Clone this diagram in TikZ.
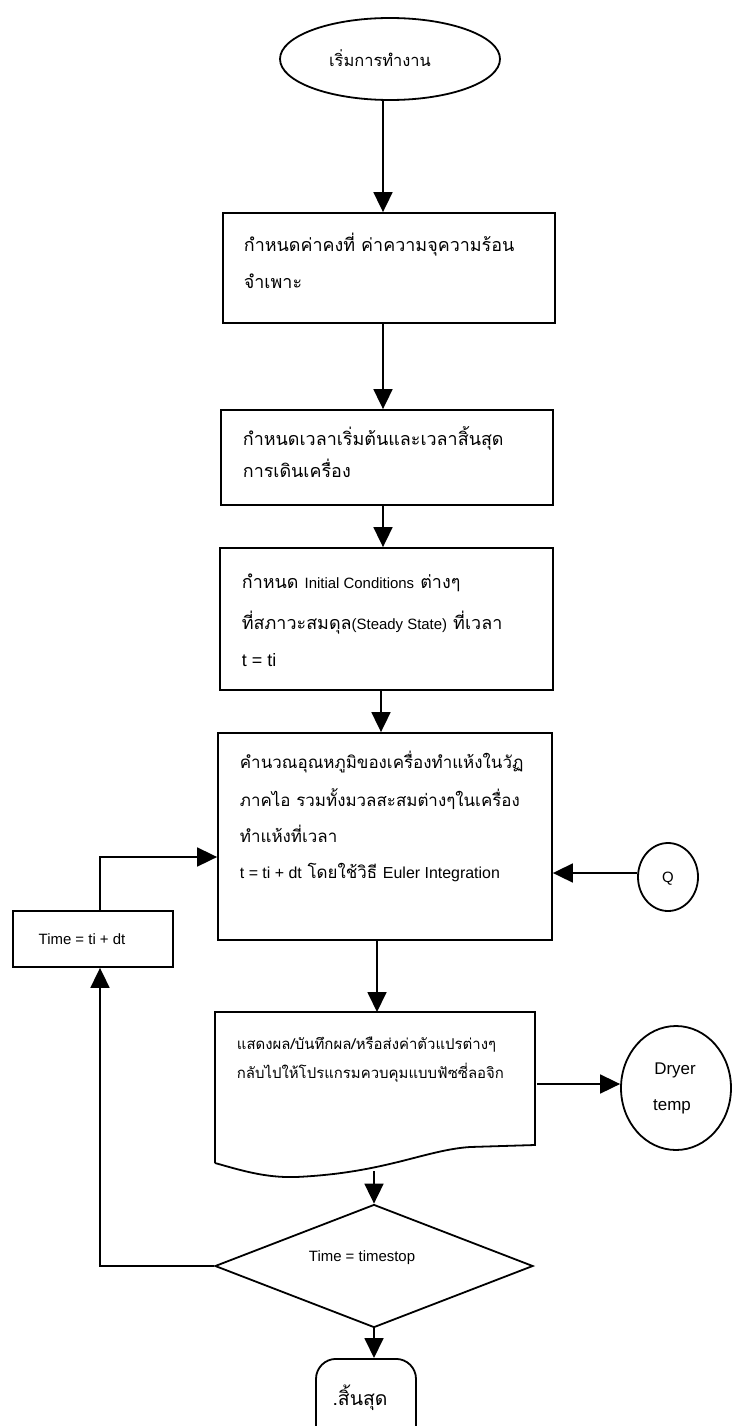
\documentclass[tikz,border=0pt]{standalone}
\usepackage{fontspec}
\setmainfont{Liberation Sans}
\newfontfamily\thai[Script=Thai]{Loma}
\usetikzlibrary{arrows.meta,shapes.geometric,calc}
\begin{document}
\begin{tikzpicture}[x=1bp,y=-1bp,line width=1.8bp,
  flow/.style={-{Triangle[length=20bp,width=19bp]}},
  boxn/.style={draw,rectangle,inner sep=0pt},
  txt/.style={anchor=west,inner sep=0pt,align=left},
  ctxt/.style={inner sep=0pt,align=center},
  thaiA/.style={font=\thai\fontsize{18}{21}\selectfont},
  thaiB/.style={font=\thai\fontsize{17}{20}\selectfont},
  thaiC/.style={font=\thai\fontsize{15}{18}\selectfont},
]
\useasboundingbox (0,0) rectangle (731,1426);
\fill[white] (0,0) rectangle (731,1426);
\newcommand\lat[1]{{\fontspec{Liberation Sans}\fontsize{15}{17}\selectfont #1}}
\newcommand\latb[1]{{\fontspec{Liberation Sans}\fontsize{16}{18}\selectfont #1}}

% start ellipse
\node[draw,ellipse,inner sep=0pt,minimum width=220bp,minimum height=82bp] (ell) at (390,59) {};
\node[ctxt,font=\thai\fontsize{16.5}{19}\selectfont] (ellt) at (380,58) {เริ่มการทำงาน};

% box 1
\node[boxn,minimum width=332bp,minimum height=110bp] (b1) at (389,268) {};
\node[txt,thaiA] (b1a) at (243,245) {กำหนดค่าคงที่ ค่าความจุความร้อน};
\node[txt,thaiA] (b1b) at (243,281) {จำเพาะ};

% box 2
\node[boxn,minimum width=332bp,minimum height=95bp] (b2) at (387,457.5) {};
\node[txt,thaiA] (b2a) at (242,438) {กำหนดเวลาเริ่มต้นและเวลาสิ้นสุด};
\node[txt,thaiA] (b2b) at (242,468) {การเดินเครื่อง};

% box 3
\node[boxn,minimum width=333bp,minimum height=142bp] (b3) at (386.5,619) {};
\node[txt,thaiA] (b3a) at (241,583) {กำหนด \lat{Initial Conditions} ต่างๆ};
\node[txt,thaiA] (b3b) at (241,623) {ที่สภาวะสมดุล\lat{(Steady State)} ที่เวลา};
\node[txt] (b3c) at (241,660) {{\fontspec{Liberation Sans}\fontsize{18}{20}\selectfont t = ti}};

% box 4
\node[boxn,minimum width=334bp,minimum height=207bp] (b4) at (385,836.5) {};
\node[txt,thaiB] (b4a) at (239,762) {คำนวณอุณหภูมิของเครื่องทำแห้งในวัฏ};
\node[txt,thaiB] (b4b) at (239,799) {ภาคไอ รวมทั้งมวลสะสมต่างๆในเครื่อง};
\node[txt,thaiB] (b4c) at (239,834) {ทำแห้งที่เวลา};
\node[txt,thaiB] (b4d) at (239,873) {\latb{t = ti + dt} โดยใช้วิธี \latb{Euler Integration}};

% Time box
\node[boxn,minimum width=160bp,minimum height=56bp] (tb) at (93,939) {};
\node[ctxt,font=\fontsize{15}{17}\selectfont] (tbt) at (82,939) {Time = ti + dt};

% Q circle
\node[draw,ellipse,inner sep=0pt,minimum width=60bp,minimum height=68bp] (q) at (668,877) {};
\node[ctxt,font=\fontsize{15}{17}\selectfont] (qt) at (668,879) {Q};

% document shape
\node[inner sep=0pt,minimum width=320bp,minimum height=133bp,anchor=north west] (doc) at (215,1012) {};
\draw (215,1163) -- (215,1012) -- (535,1012) -- (535,1145) -- (470,1147)
  .. controls (425,1150) and (385,1173) .. (296,1177)
  .. controls (265,1178) and (240,1170) .. (215,1163);
\node[txt,thaiC] (da) at (236,1045) {แสดงผล/บันทึกผล/หรือส่งค่าตัวแปรต่างๆ};
\node[txt,thaiC] (db) at (236,1073) {กลับไปให้โปรแกรมควบคุมแบบฟัซซี่ลอจิก};
\coordinate (docb) at (374,1171);

% Dryer temp circle
\node[draw,ellipse,inner sep=0pt,minimum width=110bp,minimum height=124bp] (dry) at (676,1088) {};
\node[ctxt,font=\fontsize{17}{19}\selectfont] (dryA) at (675,1070) {Dryer};
\node[ctxt,font=\fontsize{17}{19}\selectfont] (dryB) at (672,1107) {temp};

% decision
\node[draw,diamond,inner sep=0pt,minimum width=318bp,minimum height=123bp] (dia) at (374,1266) {};
\node[ctxt,font=\fontsize{15}{17}\selectfont] (diat) at (362,1258) {Time = timestop};

% end terminal
\node[draw,rectangle,rounded corners=20bp,minimum width=100bp,minimum height=110bp,anchor=north] (endn) at (366,1358) {};
\node[ctxt,font=\thai\fontsize{19.5}{22}\selectfont] (endt) at (360,1398) {.สิ้นสุด};

% helper coordinates
\coordinate (lx) at (100,0);
\coordinate (ax) at (383,0);
\coordinate (ax2) at (381,0);
\coordinate (ax3) at (377,0);

% connectors
\draw[flow] (ell.south -| ax) -- (b1.north -| ax);
\draw[flow] (b1.south -| ax) -- (b2.north -| ax);
\draw[flow] (b2.south -| ax) -- (b3.north -| ax);
\draw[flow] (b3.south -| ax2) -- (b4.north -| ax2);
\draw[flow] (b4.south -| ax3) -- (doc.north -| ax3);
\draw[flow] (docb) -- (dia.north);
\draw[flow] (dia.south) -- (dia.south |- endn.north);
\draw[flow] (q.west |- b4d) -- (b4.east |- b4d);
\draw[flow] (doc.east |- 0,1084) -- (dry.west |- 0,1084);
\draw[flow] (dia.west) -- (dia.west -| lx) -- (tb.south -| lx);
\draw[flow] (tb.north -| lx) -- (100,857) -- (b4.west |- 0,857);
\end{tikzpicture}
\end{document}
